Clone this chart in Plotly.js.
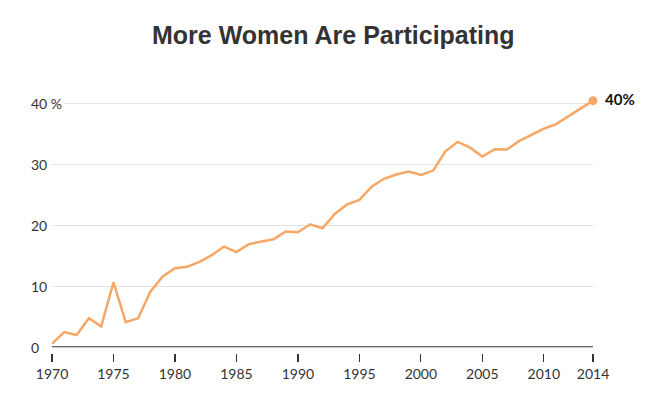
<!DOCTYPE html>
<html>
<head>
<meta charset="utf-8">
<script src="https://cdn.plot.ly/plotly-3.0.1.min.js"></script>
<style>html,body{margin:0;padding:0;background:#fff;}#chart{width:660px;height:395px;}</style>
</head>
<body>
<div id="chart"></div>
<script>
const years = [1970,1971,1972,1973,1974,1975,1976,1977,1978,1979,1980,1981,1982,1983,1984,1985,1986,1987,1988,1989,1990,1991,1992,1993,1994,1995,1996,1997,1998,1999,2000,2001,2002,2003,2004,2005,2006,2007,2008,2009,2010,2011,2012,2013,2014];
const sharePct = [0.6,2.5,2.0,4.75,3.4,10.65,4.1,4.75,9.1,11.6,12.95,13.2,14.0,15.1,16.5,15.6,16.9,17.3,17.7,18.95,18.85,20.15,19.5,21.85,23.4,24.15,26.3,27.6,28.3,28.8,28.25,28.95,32.1,33.65,32.7,31.25,32.45,32.4,33.8,34.8,35.8,36.55,37.8,39.05,40.4];
const xTickVals = [1970,1975,1980,1985,1990,1995,2000,2005,2010,2014];
const xTickText = ['1970','1975','1980','1985','1990','1995','2000','2005','2010','2014'];
const yTickVals = [0,10,20,30,40];
const yTickText = ['0','10','20','30','40 %'];
const endLabel = '40%';
const titleText = 'More Women Are Participating';

const lineColor = '#f6a766';
const fontFam = 'Lato, "Open Sans", sans-serif';

const traces = [
  {x: years, y: sharePct, type: 'scatter', mode: 'lines', line: {color: lineColor, width: 2.5}, hoverinfo: 'skip'},
  {x: [years[years.length-1]], y: [sharePct[sharePct.length-1]], type: 'scatter', mode: 'markers', marker: {color: lineColor, size: 9}, cliponaxis: false, hoverinfo: 'skip'}
];

const annotations = yTickVals.map((v, i) => ({
  x: -0.045, xref: 'paper', xanchor: 'left', y: v, yref: 'y', yanchor: 'middle',
  text: yTickText[i], showarrow: false, bgcolor: '#ffffff', borderpad: 2,
  font: {family: fontFam, size: 14, color: '#333'}
}));
annotations.push({
  x: years[years.length-1], y: sharePct[sharePct.length-1], xref: 'x', yref: 'y',
  xanchor: 'left', yanchor: 'middle', xshift: 10, yshift: 2, text: '<b>' + endLabel + '</b>',
  showarrow: false, font: {family: fontFam, size: 15, color: '#111'}
});

const layout = {
  width: 660, height: 395,
  margin: {l: 52, r: 67, t: 97, b: 42},
  paper_bgcolor: '#fff', plot_bgcolor: '#fff',
  showlegend: false,
  title: {text: '<b>' + titleText + '</b>', x: 0.505, xanchor: 'center', y: 0.91, yanchor: 'middle',
          font: {family: '"Liberation Sans", Arial, sans-serif', size: 25, color: '#333'}},
  xaxis: {range: [1970, 2014], tickvals: xTickVals, ticktext: xTickText, anchor: 'free', position: 0,
          showgrid: false, zeroline: false, showline: false, ticks: 'outside', ticklen: 8, tickwidth: 1.2,
          tickcolor: '#333', tickfont: {family: fontFam, size: 14, color: '#333'}, fixedrange: true},
  yaxis: {range: [0, 41], domain: [0.0223, 1], tickvals: [10,20,30,40], showticklabels: false,
          showgrid: true, gridcolor: '#e2e2e2', gridwidth: 1, zeroline: false, showline: false, ticks: '', fixedrange: true},
  shapes: [{type: 'line', xref: 'paper', yref: 'y', x0: 0, x1: 1, y0: 0, y1: 0, line: {color: '#333', width: 2}, layer: 'below'}],
  annotations: annotations
};

Plotly.newPlot('chart', traces, layout, {displayModeBar: false, staticPlot: true});
</script>
</body>
</html>
